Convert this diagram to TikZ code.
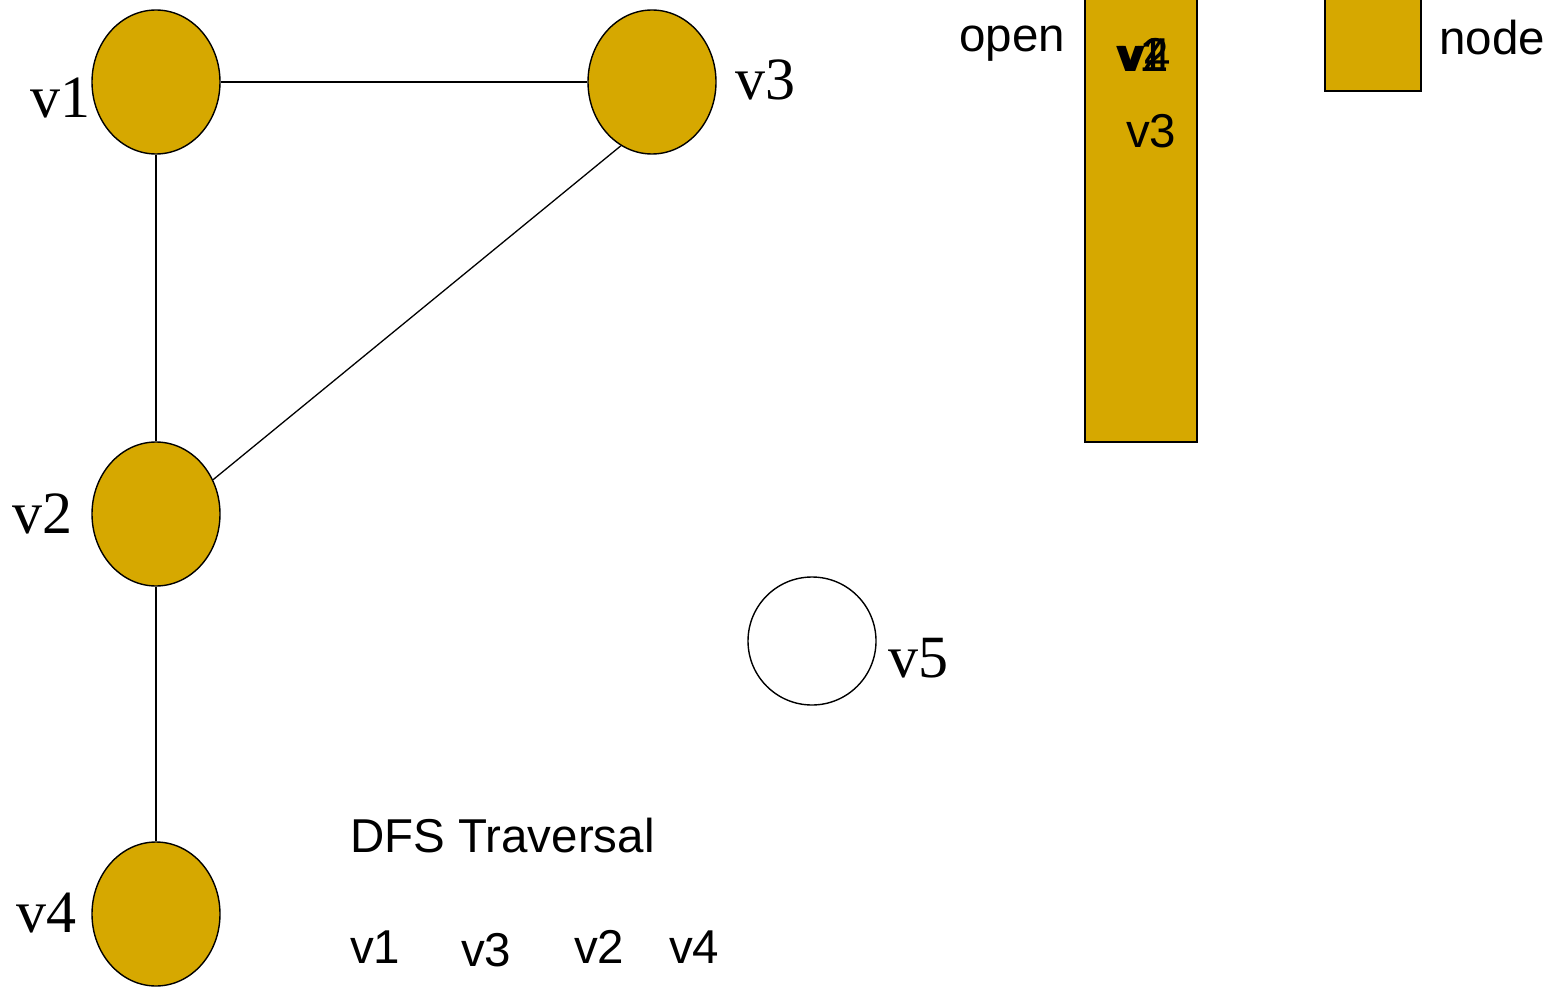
\documentclass[tikz,border=0pt]{standalone}
\usepackage{fontspec}
\setmainfont{Liberation Serif}
\newfontfamily\labelsans{Liberation Sans}
\usetikzlibrary{shapes.geometric}
\definecolor{vgold}{RGB}{214,168,0}
\begin{document}
\begin{tikzpicture}[x=1pt,y=-1pt,
  vertex/.style={draw=black,line width=1.4pt,ellipse,minimum width=128pt,minimum height=144pt,inner sep=0pt},
  visited/.style={vertex,fill=vgold},
  fresh/.style={vertex,fill=white,minimum height=128pt},
  edge/.style={draw=black,line width=1.3pt},
  vname/.style={anchor=base west,inner sep=0pt,font=\fontsize{60}{63}\selectfont},
  sanstext/.style={anchor=base west,inner sep=0pt,font=\labelsans\fontsize{47.5}{56}\selectfont},
  stackbox/.style={draw=black,line width=2pt,fill=vgold}]
\useasboundingbox (0,0) rectangle (1554,987);

% graph vertices
\node[visited] (v1) at (156,82) {};
\node[visited] (v3) at (652,82) {};
\node[visited] (v2) at (156,514) {};
\node[visited] (v4) at (156,914) {};
\node[fresh]   (v5) at (812,641) {};

% edges
\draw[edge] (v1.east) -- (v3.west);
\draw[edge] (v1.south) -- (v2.north);
\draw[edge] (v3.244) -- (v2.31);
\draw[edge] (v2.south) -- (v4.north);

% vertex names
\node[vname] (l1) at (30,118) {v1};
\node[vname] (l3) at (735,100) {v3};
\node[vname] (l2) at (12,533) {v2};
\node[vname] (l4) at (16,932) {v4};
\node[vname] (l5) at (888,677) {v5};

% open stack
\node[stackbox,anchor=north west,minimum width=112pt,minimum height=444pt,inner sep=0pt] (stack) at (1084,-3) {};
\node[sanstext] (openlbl) at (959,52) {open};
\node[sanstext] (s1) at (1116,72) {v1};
\node[sanstext] (s2) at (1119,72) {v2};
\node[sanstext] (s4) at (1121,72) {v4};
\node[sanstext] (s3) at (1126,148) {v3};

% legend
\node[stackbox,anchor=north west,minimum width=96pt,minimum height=93pt,inner sep=0pt] (key) at (1324,-3) {};
\node[sanstext] (keylbl) at (1439,55) {node};

% traversal order
\node[sanstext] (title) at (350,852) {DFS Traversal};
\node[sanstext] (t1) at (350,963) {v1};
\node[sanstext] (t3) at (461,966) {v3};
\node[sanstext] (t2) at (574,963) {v2};
\node[sanstext] (t4) at (669,963) {v4};
\end{tikzpicture}
\end{document}
